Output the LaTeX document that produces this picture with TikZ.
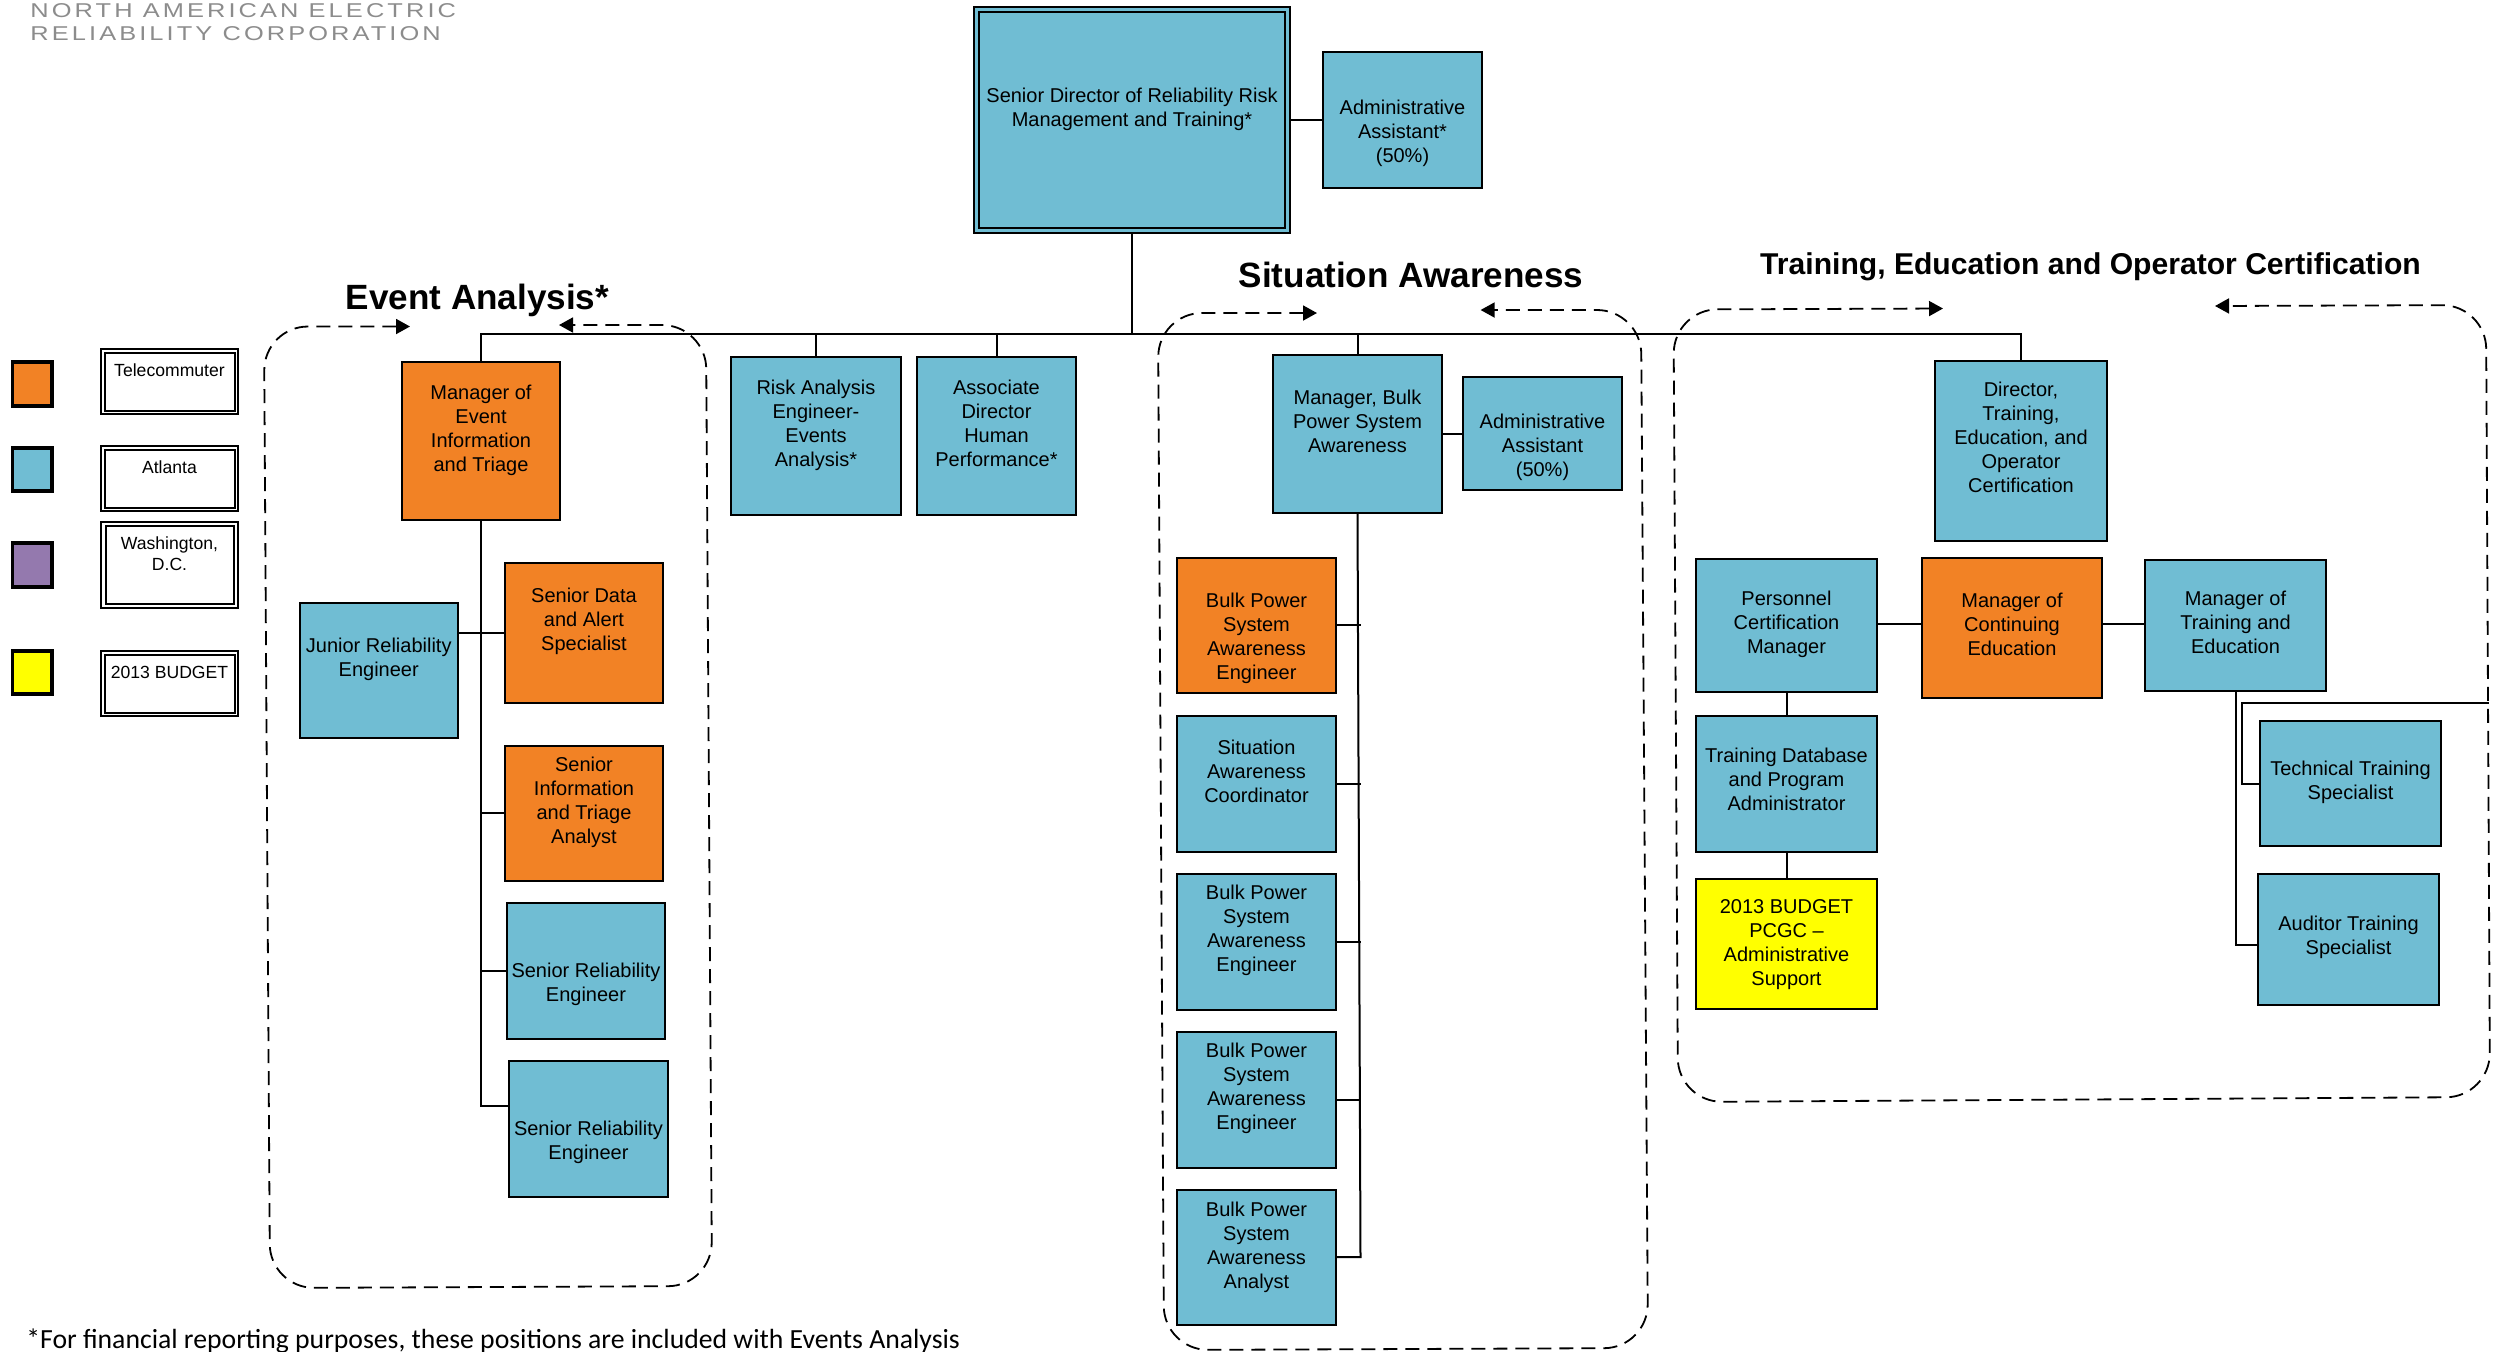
\documentclass[tikz,border=0pt]{standalone}
\usepackage{fontspec}
\setmainfont{Liberation Sans}
\newfontfamily\notefont{Carlito}
\newfontfamily\logofont[LetterSpace=15.5,FakeStretch=1.27]{Liberation Sans}
\usetikzlibrary{arrows.meta}
\definecolor{nblue}{RGB}{112,189,211}
\definecolor{norange}{RGB}{242,130,37}
\definecolor{npurple}{RGB}{148,121,174}
\definecolor{nyellow}{RGB}{255,255,0}
\definecolor{ngrey}{RGB}{140,140,140}
\tikzset{
  orgbox/.style={draw=black,line width=1pt,inner sep=0pt,outer sep=0pt,font=\fontsize{10}{12}\selectfont},
  blue box/.style={orgbox,fill=nblue},
  orange box/.style={orgbox,fill=norange},
  yellow box/.style={orgbox,fill=nyellow},
  swatch/.style={orgbox,line width=1.6pt},
  keybox/.style={orgbox,fill=white,font=\fontsize{8.8}{10.4}\selectfont},
  keyinner/.style={line width=1pt},
  link/.style={draw=black,line width=1pt},
  dashbox/.style={draw=black,line width=0.9pt,dash pattern=on 7pt off 4pt,rounded corners=22pt,
    {Triangle[length=7pt,width=7.5pt]}-{Triangle[length=7pt,width=7.5pt]}},
  title/.style={anchor=base,font=\bfseries\fontsize{17.55}{20}\selectfont},
}
\newcommand{\bx}[8][]{%
  \pgfmathsetmacro{\bxX}{(#3+#5)/2}%
  \pgfmathsetmacro{\bxY}{(#4+#6)/2}%
  \pgfmathsetmacro{\bxW}{(#5-#3)/2}%
  \pgfmathsetmacro{\bxH}{(#6-#4)/2}%
  \pgfmathsetmacro{\bxP}{(#7-#4)/2}%
  \node[#1] (#2) at (\bxX,\bxY) {\begin{minipage}[c][\bxH pt][t]{\bxW pt}\centering\vspace*{\dimexpr\bxP pt-\ht\strutbox\relax}\strut #8\end{minipage}};%
}
\begin{document}
\begin{tikzpicture}[x=0.5pt,y=-0.5pt]
\useasboundingbox (0,0) rectangle (2500,1351);
% logo
\node[anchor=base west,inner sep=0pt,text=ngrey,font=\logofont\fontsize{10}{12}\selectfont] (logoa) at (30,17) {NORTH AMERICAN ELECTRIC};
\node[anchor=base west,inner sep=0pt,text=ngrey,font=\logofont\fontsize{10}{12}\selectfont] (logob) at (30,40) {RELIABILITY CORPORATION};
% legend
\bx[swatch,fill=norange]{ksa}{12.5}{362}{52}{406}{380}{}
\bx[swatch,fill=nblue]{ksb}{12.5}{448}{52}{491}{470}{}
\bx[swatch,fill=npurple]{ksc}{12.5}{543}{52}{587}{565}{}
\bx[swatch,fill=nyellow]{ksd}{12.5}{651}{52}{694}{672}{}
\bx[keybox]{kta}{101}{349}{238}{414}{376}{Telecommuter}
\bx[keybox]{ktb}{101}{446}{238}{511}{473.5}{Atlanta}
\bx[keybox]{ktc}{101}{522}{238}{608}{549.5}{Washington,\\D.C.}
\bx[keybox]{ktd}{101}{651}{238}{716}{678.5}{2013 BUDGET}
\draw[keyinner] (104.5,352.5) rectangle (234.5,410.5);
\draw[keyinner] (104.5,449.5) rectangle (234.5,507.5);
\draw[keyinner] (105.5,526) rectangle (233.5,604);
\draw[keyinner] (104.5,654.5) rectangle (234.5,712.5);
% dashed groups
\draw[dashbox] (410,326.5) -- (264,326.5) -- (270,1288) -- (712,1286) -- (706,325) -- (559,325);
\draw[dashbox] (1317,313) -- (1158,313) -- (1164,1350) -- (1648,1348) -- (1641,310) -- (1480.6,310);
\draw[dashbox] (1943,308.5) -- (1673.5,309.5) -- (1678,1102) -- (2490,1097) -- (2486,305) -- (2215,306);
% titles
\node[title] (tevent) at (477.5,309) {Event Analysis*};
\node[title] (tsit) at (1411,287) {Situation Awareness};
\node[title,font=\bfseries\fontsize{15.05}{18}\selectfont] (ttrain) at (2090.5,274.5) {Training, Education and Operator Certification};
% top
\bx[blue box]{top}{974}{7}{1290}{233}{102}{Senior Director of Reliability Risk\\Management and Training*}
\draw[line width=1pt] (979,12) rectangle (1285,228);
\bx[blue box]{adma}{1323}{52}{1482}{188}{114}{Administrative\\Assistant*\\(50\%)}
% event analysis
\bx[orange box]{mgre}{402}{362}{560}{520}{399}{Manager of\\Event\\Information\\and Triage}
\bx[orange box]{sdas}{505}{563}{663}{702.5}{602}{Senior Data\\and Alert\\Specialist}
\bx[blue box]{jun}{299.5}{603}{458}{738}{652}{Junior Reliability\\Engineer}
\bx[orange box]{sita}{505}{745.7}{663}{881}{771.4}{Senior\\Information\\and Triage\\Analyst}
\bx[blue box]{srea}{507}{903.4}{665}{1039}{977}{Senior Reliability\\Engineer}
\bx[blue box]{sreb}{509}{1061}{668}{1196.5}{1135}{Senior Reliability\\Engineer}
% middle
\bx[blue box]{risk}{731}{357}{901}{515}{394}{Risk Analysis\\Engineer-\\Events\\Analysis*}
\bx[blue box]{assoc}{917}{357}{1076}{515}{394}{Associate\\Director\\Human\\Performance*}
% situation awareness
\bx[blue box]{mgrb}{1273}{355}{1442}{513}{404.5}{Manager, Bulk\\Power System\\Awareness}
\bx[blue box]{admb}{1463}{377}{1622}{490}{428}{Administrative\\Assistant\\(50\%)}
\bx[orange box]{bpa}{1177}{557.5}{1336}{693}{607.5}{Bulk Power\\System\\Awareness\\Engineer}
\bx[blue box]{bpb}{1177}{716}{1336}{852}{754}{Situation\\Awareness\\Coordinator}
\bx[blue box]{bpc}{1177}{874}{1336}{1010}{899.5}{Bulk Power\\System\\Awareness\\Engineer}
\bx[blue box]{bpd}{1177}{1032}{1336}{1167.6}{1057}{Bulk Power\\System\\Awareness\\Engineer}
\bx[blue box]{bpe}{1177}{1190}{1336}{1325}{1216}{Bulk Power\\System\\Awareness\\Analyst}
% training
\bx[blue box]{dir}{1935}{360.6}{2107}{541}{396.5}{Director,\\Training,\\Education, and\\Operator\\Certification}
\bx[blue box]{pers}{1696}{559}{1877}{692}{605}{Personnel\\Certification\\Manager}
\bx[orange box]{mce}{1922}{558}{2102}{698}{607.5}{Manager of\\Continuing\\Education}
\bx[blue box]{mte}{2145}{560}{2326}{691}{605}{Manager of\\Training and\\Education}
\bx[blue box]{tdb}{1696}{716}{1877}{851.5}{762.5}{Training Database\\and Program\\Administrator}
\bx[yellow box]{pcgc}{1696}{878.5}{1877}{1009}{913.5}{2013 BUDGET\\PCGC --\\Administrative\\Support}
\bx[blue box]{tech}{2260}{721}{2441}{846}{775}{Technical Training\\Specialist}
\bx[blue box]{aud}{2258}{874}{2439}{1005}{930.5}{Auditor Training\\Specialist}
% connectors
\coordinate (bus) at (1132,333.5);
\coordinate (evend) at (481,1106);
\coordinate (sitend) at (1360.5,1257);
\coordinate (tel) at (2000,623.5);
\coordinate (teend) at (2235.5,945);
\coordinate (tka) at (2242,703);
\coordinate (tkb) at (2489,703);
\draw[link] (top.south) -- (bus);
\draw[link] (mgre.north) -- (mgre.north |- bus) -- (dir.north |- bus) -- (dir.north);
\draw[link] (risk.north) -- (risk.north |- bus);
\draw[link] (assoc.north) -- (assoc.north |- bus);
\draw[link] (mgrb.north) -- (mgrb.north |- bus);
\draw[link] (top.east) -- (adma.west);
\draw[link] (mgrb.east |- admb.west) -- (admb.west);
\draw[link] (mgre.south) -- (evend) -- (evend -| sreb.west);
\draw[link] (jun.east |- sdas.west) -- (sdas.west);
\draw[link] (evend |- sita.west) -- (sita.west);
\draw[link] (evend |- srea.west) -- (srea.west);
\draw[link] (mgrb.south) -- (sitend) -- (sitend -| bpe.east);
\draw[link] (bpa.east) -- (bpa.east -| sitend);
\draw[link] (bpb.east) -- (bpb.east -| sitend);
\draw[link] (bpc.east) -- (bpc.east -| sitend);
\draw[link] (bpd.east) -- (bpd.east -| sitend);
\draw[link] (pers.east |- tel) -- (mce.west |- tel);
\draw[link] (mce.east |- tel) -- (mte.west |- tel);
\draw[link] (pers.south) -- (tdb.north);
\draw[link] (tdb.south) -- (pcgc.north);
\draw[link] (mte.south) -- (teend) -- (teend -| aud.west);
\draw[link] (tech.west) -| (tka) -- (tkb);
% footnote
\node[anchor=base west,inner sep=0pt,font=\notefont\fontsize{13.85}{16}\selectfont] (note) at (26,1348) {*For financial reporting purposes, these positions are included with Events Analysis};
\end{tikzpicture}
\end{document}
